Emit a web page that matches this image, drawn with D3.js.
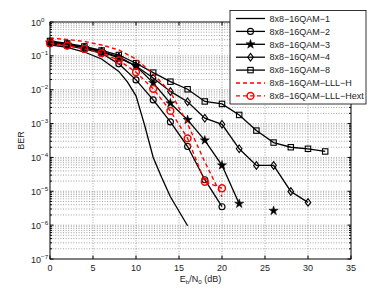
<!DOCTYPE html>
<html>
<head>
<meta charset="utf-8">
<script src="https://cdn.jsdelivr.net/npm/d3@7"></script>
<style>
  body { margin: 0; background: #fff; }
  svg { display: block; font-family: "Liberation Sans", Arial, sans-serif; }
</style>
</head>
<body>
<div id="chart"></div>
<script>
// Eb/N0 points (dB)
const snr = [0, 2, 4, 6, 8, 10, 12, 14, 16, 18, 20, 22, 24, 26, 28, 30, 32];
const snr1 = [0, 2, 4, 6, 8, 9, 10, 11, 12, 13, 14, 16];

// BER per scheme (null = nothing plotted)
const ber1 = [0.21, 0.177, 0.13, 0.081, 0.0347, 0.017, 6.6e-3, 9e-4, 1.0e-4, 2.5e-5, 6.9e-6, 9.6e-7];
const ber2 = [0.232, 0.2, 0.16, 0.119, 0.058, 0.0195, 5.0e-3, 1.12e-3, 2.1e-4, 2.2e-5, 3.5e-6];
const ber3 = [0.248, 0.217, 0.171, 0.13, 0.0867, 0.0504, 0.0159, 4.0e-3, 1.29e-3, 3.2e-4, 5.85e-5, 4.3e-6, null, 2.66e-6];
const ber4 = [0.257, 0.224, 0.177, 0.135, 0.093, 0.05, 0.0223, 8.9e-3, 4.4e-3, 1.44e-3, 9.5e-4, 1.8e-4, 5.8e-5, 5.8e-5, 9.9e-6, 4.7e-6];
const ber8 = [0.275, 0.232, 0.19, 0.144, 0.106, 0.0605, 0.032, 0.0173, 0.0103, 4.5e-3, 3.8e-3, 1.8e-3, 6.2e-4, 2.75e-4, 2.0e-4, 1.8e-4, 1.5e-4];
const berH = [0.337, 0.305, 0.266, 0.21, 0.149, 0.081, 0.0292, 8.6e-3, 9.8e-4, 7.4e-5, 6.9e-6];
const berHext = [0.235, 0.2, 0.16, 0.12, 0.074, 0.0328, 0.0106, 2.37e-3, 3.66e-4, 1.9e-5, 1.23e-5];

const names = ["8x8\u221216QAM\u22121", "8x8\u221216QAM\u22122", "8x8\u221216QAM\u22123", "8x8\u221216QAM\u22124",
  "8x8\u221216QAM\u22128", "8x8\u221216QAM\u2212LLL\u2212H", "8x8\u221216QAM\u2212LLL\u2212Hext"];
const xTicks = [0, 5, 10, 15, 20, 25, 30, 35];
const yExps = [0, -1, -2, -3, -4, -5, -6, -7];

let w = 388;
let h = 292;
let m = { left: 50, right: 37, top: 22, bottom: 33 };

let svg = d3.select("#chart").append("svg")
  .attr("width", w)
  .attr("height", h);

let x = d3.scaleLinear().domain([0, 35]).range([m.left, w - m.right]);
let y = d3.scaleLog().domain([1e-7, 1]).range([h - m.bottom, m.top]);

// minor log values
let minor = [];
for (let e = -7; e < 0; e++) {
  for (let k = 2; k <= 9; k++) minor.push(k * Math.pow(10, e));
}

// grid
let grid = svg.append("g").attr("stroke", "#8c8c8c").attr("stroke-width", 0.8).attr("stroke-dasharray", "1,1.6");
grid.selectAll("line.gy")
  .data(yExps.slice(1, -1).map(e => Math.pow(10, e)).concat(minor))
  .join("line")
  .attr("x1", x(0)).attr("x2", x(35))
  .attr("y1", d => y(d)).attr("y2", d => y(d));
grid.selectAll("line.gx")
  .data(xTicks.slice(1, -1))
  .join("line")
  .attr("y1", y(1)).attr("y2", y(1e-7))
  .attr("x1", d => x(d)).attr("x2", d => x(d));

// series
let series = [
  { xs: snr1, ys: ber1, color: "black", dash: null, marker: null },
  { xs: snr, ys: ber2, color: "black", dash: null, marker: "circle" },
  { xs: snr, ys: ber3, color: "black", dash: null, marker: "star" },
  { xs: snr, ys: ber4, color: "black", dash: null, marker: "diamond" },
  { xs: snr, ys: ber8, color: "black", dash: null, marker: "square" },
  { xs: snr, ys: berH, color: "red", dash: "4,3", marker: null },
  { xs: snr, ys: berHext, color: "red", dash: "4,3", marker: "circle" }
];

let line = d3.line()
  .defined(d => d[1] != null)
  .x(d => x(d[0]))
  .y(d => y(d[1]));

function drawMarker(g, type, color, cx, cy) {
  if (type == "circle") {
    g.append("circle").attr("cx", cx).attr("cy", cy).attr("r", color == "red" ? 3.4 : 3)
      .attr("fill", "none").attr("stroke", color).attr("stroke-width", color == "red" ? 1.5 : 1.1);
  } else if (type == "square") {
    g.append("rect").attr("x", cx - 2.7).attr("y", cy - 2.7).attr("width", 5.4).attr("height", 5.4)
      .attr("fill", "none").attr("stroke", color).attr("stroke-width", 1.1);
  } else if (type == "diamond") {
    g.append("path").attr("d", `M${cx},${cy - 3.8}L${cx + 2.8},${cy}L${cx},${cy + 3.8}L${cx - 2.8},${cy}Z`)
      .attr("fill", "none").attr("stroke", color).attr("stroke-width", 1.1);
  } else if (type == "star") {
    g.append("path").attr("d", d3.symbol(d3.symbolStar, 26)())
      .attr("transform", `translate(${cx},${cy})`)
      .attr("fill", color).attr("stroke", color).attr("stroke-width", 0.5);
  }
}

series.forEach(s => {
  let pts = s.ys.map((v, i) => [s.xs[i], v]);
  let g = svg.append("g");
  g.append("path")
    .attr("d", line(pts))
    .attr("fill", "none")
    .attr("stroke", s.color)
    .attr("stroke-width", s.color == "red" ? 1.4 : 1.3)
    .attr("stroke-dasharray", s.dash);
  if (s.marker) {
    pts.filter(d => d[1] != null).forEach(d => drawMarker(g, s.marker, s.color, x(d[0]), y(d[1])));
  }
});

// frame + ticks
let frame = svg.append("g").attr("stroke", "black").attr("stroke-width", 1);
frame.append("rect")
  .attr("x", x(0)).attr("y", y(1))
  .attr("width", x(35) - x(0)).attr("height", y(1e-7) - y(1))
  .attr("fill", "none");
xTicks.forEach(t => {
  frame.append("line").attr("x1", x(t)).attr("x2", x(t)).attr("y1", y(1e-7)).attr("y2", y(1e-7) - 3.5);
  frame.append("line").attr("x1", x(t)).attr("x2", x(t)).attr("y1", y(1)).attr("y2", y(1) + 3.5);
});
yExps.forEach(e => {
  let v = Math.pow(10, e);
  frame.append("line").attr("x1", x(0)).attr("x2", x(0) + 3.5).attr("y1", y(v)).attr("y2", y(v));
  frame.append("line").attr("x1", x(35)).attr("x2", x(35) - 3.5).attr("y1", y(v)).attr("y2", y(v));
});
minor.forEach(v => {
  frame.append("line").attr("x1", x(0)).attr("x2", x(0) + 2).attr("y1", y(v)).attr("y2", y(v));
  frame.append("line").attr("x1", x(35)).attr("x2", x(35) - 2).attr("y1", y(v)).attr("y2", y(v));
});

// tick labels
svg.append("g").selectAll("text")
  .data(xTicks)
  .join("text")
  .attr("x", d => x(d))
  .attr("y", y(1e-7) + 11.5)
  .attr("text-anchor", "middle")
  .attr("font-size", 9)
  .attr("fill", "#222")
  .text(d => d);

let yl = svg.append("g").selectAll("text")
  .data(yExps)
  .join("text")
  .attr("x", x(0) - 19)
  .attr("y", d => y(Math.pow(10, d)) + 3.5)
  .attr("text-anchor", "start")
  .attr("font-size", 9)
  .attr("fill", "#222");
yl.append("tspan").text("10");
yl.append("tspan").attr("dy", -4).attr("font-size", 6.2).text(d => d == 0 ? "0" : "\u2212" + (-d));

// axis labels
let xl = svg.append("text")
  .attr("x", (x(0) + x(35)) / 2)
  .attr("y", h - 10)
  .attr("text-anchor", "middle")
  .attr("font-size", 9)
  .attr("fill", "#222");
xl.append("tspan").text("E");
xl.append("tspan").attr("dy", 2).attr("font-size", 6.2).text("b");
xl.append("tspan").attr("dy", -2).text("/N");
xl.append("tspan").attr("dy", 2).attr("font-size", 6.2).text("0");
xl.append("tspan").attr("dy", -2).text(" (dB)");

svg.append("text")
  .attr("transform", `translate(24, ${(y(1) + y(1e-7)) / 2}) rotate(-90)`)
  .attr("text-anchor", "middle")
  .attr("font-size", 9)
  .attr("fill", "#222")
  .text("BER");

// legend
let lg = svg.append("g").attr("transform", "translate(230, 10.5)");
lg.append("rect")
  .attr("width", 136).attr("height", 93.5)
  .attr("fill", "white").attr("stroke", "black").attr("stroke-width", 0.8);
series.forEach((s, i) => {
  let ly = 8 + i * 12.9;
  let row = lg.append("g");
  row.append("line")
    .attr("x1", 6).attr("x2", 35).attr("y1", ly).attr("y2", ly)
    .attr("stroke", s.color).attr("stroke-width", s.color == "red" ? 1.4 : 1.3)
    .attr("stroke-dasharray", s.dash);
  if (s.marker) drawMarker(row, s.marker, s.color, 20.5, ly);
  row.append("text")
    .attr("x", 39.5).attr("y", ly + 3.2)
    .attr("font-size", 9)
    .attr("fill", "#222")
    .text(names[i]);
});
</script>
</body>
</html>
